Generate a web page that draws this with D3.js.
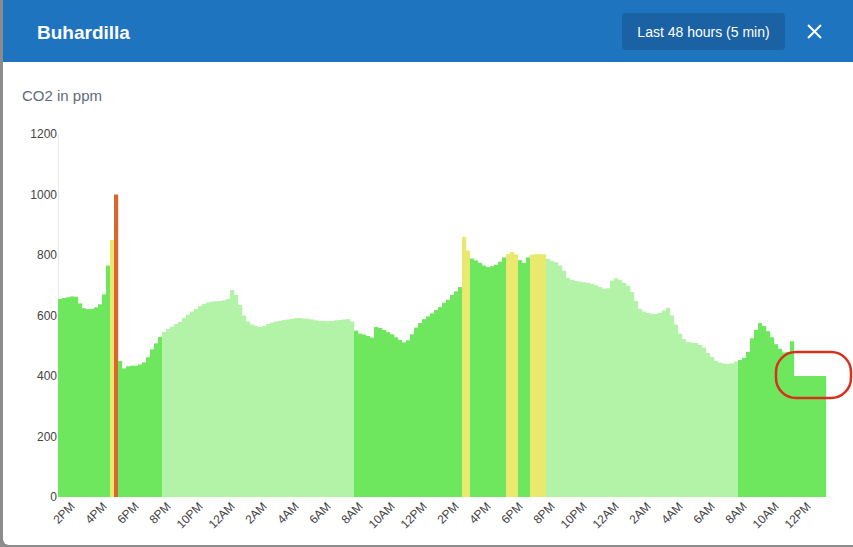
<!DOCTYPE html>
<html>
<head>
<meta charset="utf-8">
<script src="https://cdn.jsdelivr.net/npm/d3@7"></script>
<style>
  body { margin: 0; background: #8c8c8c; }
  svg { display: block; font-family: "Helvetica Neue", Arial, "Liberation Sans", sans-serif; }
</style>
</head>
<body>
<svg id="chart" width="853" height="547"></svg>
<script>
// CO2 readings, one every 15 min, starting 1:30PM on day one (48 hours)
var co2 = [
  655, 658, 660, 663, 662, 640, 624, 621, 622, 627, 637, 670,
  765, 850, 1000, 450, 425, 432, 434, 434, 438, 445, 462, 488,
  508, 529, 546, 555, 563, 572, 579, 592, 603, 613, 622, 631,
  638, 643, 646, 647, 648, 650, 655, 684, 668, 635, 600, 580,
  570, 566, 562, 566, 572, 577, 580, 582, 585, 587, 589, 591,
  592, 590, 589, 587, 584, 582, 582, 581, 582, 584, 585, 587,
  588, 580, 550, 540, 537, 532, 527, 562, 559, 552, 545, 538,
  528, 519, 511, 518, 538, 560, 575, 588, 597, 607, 618, 628,
  642, 652, 668, 680, 694, 860, 815, 788, 782, 774, 765, 760,
  763, 768, 778, 792, 803, 810, 802, 783, 774, 792, 801, 803,
  803, 802, 787, 781, 776, 765, 748, 724, 718, 714, 712, 710,
  708, 705, 700, 694, 688, 690, 715, 723, 717, 708, 698, 678,
  648, 622, 613, 608, 606, 605, 609, 616, 625, 600, 570, 540,
  522, 512, 510, 509, 503, 494, 476, 463, 450, 444, 441, 440,
  442, 448, 453, 460, 480, 525, 552, 575, 565, 548, 528, 505,
  490, 478, 480, 515, 400, 400, 400, 400, 400, 400, 400, 400
];

var startTime = new Date(2021, 2, 1, 13, 30);
var stepMinutes = 15;

var yTicks = [0, 200, 400, 600, 800, 1000, 1200];
var xTickHours = d3.range(0, 24);  // every 2 hours from 2PM

var title = "Buhardilla";
var rangeLabel = "Last 48 hours (5 min)";
var yLabel = "CO2 in ppm";

var colors = {
  day: "#6ee75e",
  night: "#b3f3a7",
  warn: "#e9e96f",
  alert: "#d9652f"
};

var svg = d3.select("#chart");

// modal card
svg.append("rect")
  .attr("x", 3).attr("y", -8)
  .attr("width", 860).attr("height", 553)
  .attr("rx", 6)
  .attr("fill", "#fff");

// header
svg.append("rect")
  .attr("x", 3).attr("y", 0)
  .attr("width", 850).attr("height", 62)
  .attr("fill", "#1f74bf");

svg.append("text")
  .attr("x", 37).attr("y", 39)
  .attr("fill", "#fff")
  .attr("font-size", 19)
  .attr("font-weight", "bold")
  .text(title);

svg.append("rect")
  .attr("x", 622).attr("y", 13)
  .attr("width", 163).attr("height", 37)
  .attr("rx", 4)
  .attr("fill", "#1a62a3");

svg.append("text")
  .attr("x", 703.5).attr("y", 37)
  .attr("text-anchor", "middle")
  .attr("fill", "#fff")
  .attr("font-size", 14)
  .text(rangeLabel);

// close cross
svg.append("path")
  .attr("d", "M808,25L821,38M821,25L808,38")
  .attr("stroke", "#fff")
  .attr("stroke-width", 2)
  .attr("fill", "none");

svg.append("text")
  .attr("x", 22).attr("y", 101)
  .attr("fill", "#5d6b7a")
  .attr("font-size", 15)
  .text(yLabel);

// scales
var endTime = d3.timeMinute.offset(startTime, stepMinutes * co2.length);
var x = d3.scaleTime().domain([startTime, endTime]).range([58, 826]);
var y = d3.scaleLinear().domain([0, 1200]).range([497, 134]);

var data = co2.map(function(v, i) {
  return { t: d3.timeMinute.offset(startTime, stepMinutes * i), v: v };
});

// colour by level, and lighter at night (8PM - 8AM)
function barColor(d) {
  var h = d.t.getHours();
  if (h >= 20 || h < 8) return colors.night;
  if (d.v >= 1000) return colors.alert;
  if (d.v >= 800) return colors.warn;
  return colors.day;
}

// y axis line
svg.append("line")
  .attr("x1", 58.5).attr("x2", 58.5)
  .attr("y1", y(1200)).attr("y2", y(0))
  .attr("stroke", "#e8e8e8");

var yAxis = svg.append("g")
  .attr("transform", "translate(58,0)")
  .call(d3.axisLeft(y).tickValues(yTicks).tickSize(0).tickPadding(1).tickFormat(d3.format("d")));
yAxis.select(".domain").remove();
yAxis.selectAll("text")
  .attr("fill", "#444")
  .attr("font-size", 12)
  .attr("font-family", "\"Helvetica Neue\", Arial, \"Liberation Sans\", sans-serif");

// bars
var barW = x(d3.timeMinute.offset(startTime, stepMinutes)) - x(startTime);
svg.append("g").selectAll("rect")
  .data(data)
  .join("rect")
  .attr("x", function(d) { return x(d.t); })
  .attr("y", function(d) { return y(d.v); })
  .attr("width", barW + 0.2)
  .attr("height", function(d) { return y(0) - y(d.v); })
  .attr("fill", barColor);

// x axis labels, rotated
var firstTick = new Date(2021, 2, 1, 14, 0);
var xTicks = xTickHours.map(function(i) { return d3.timeHour.offset(firstTick, 2 * i); });
var xAxis = svg.append("g")
  .attr("transform", "translate(0,497)")
  .call(d3.axisBottom(x).tickValues(xTicks).tickSize(0).tickFormat(d3.timeFormat("%-I%p")));
xAxis.select(".domain").remove();
xAxis.selectAll("text")
  .attr("fill", "#444")
  .attr("font-size", 12)
  .attr("font-family", "\"Helvetica Neue\", Arial, \"Liberation Sans\", sans-serif")
  .attr("text-anchor", "end")
  .attr("dy", "0.35em")
  .attr("transform", "translate(4,5) rotate(-45)");

// red highlight around the flat end
svg.append("rect")
  .attr("x", 776).attr("y", 352)
  .attr("width", 75).attr("height", 46)
  .attr("rx", 20)
  .attr("fill", "none")
  .attr("stroke", "#d8301e")
  .attr("stroke-width", 2.5);
</script>
</body>
</html>
